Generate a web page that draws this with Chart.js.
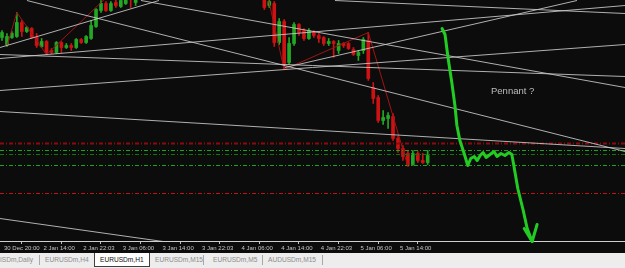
<!DOCTYPE html>
<html>
<head>
<meta charset="utf-8">
<script src="https://cdn.jsdelivr.net/npm/chart.js@4.4.1/dist/chart.umd.min.js"></script>
<style>
html, body { margin: 0; padding: 0; background: #0c0c0c; }
#wrap { position: relative; width: 625px; height: 268px; overflow: hidden; }
#chart { display: block; background: #0c0c0c; }
#note { position: absolute; left: 491px; top: 85px; color: #bdbdbd; font: 9.5px 'Liberation Sans', Arial, sans-serif; white-space: nowrap; }
#tabs { position: absolute; left: 0; top: 253px; width: 625px; height: 15px; background-color: #ededed;
  background-image: radial-gradient(#d4d4d4 0.6px, transparent 0.7px); background-size: 2px 2px; }
.tab { position: absolute; top: 3px; font: 6.6px 'Liberation Sans', Arial, sans-serif; color: #8c8c8c; white-space: nowrap; }
.sep { position: absolute; top: 2px; width: 1px; height: 10px; background: #a8a8a8; }
.active { position: absolute; left: 94px; top: 0; width: 54px; height: 13px; background: #fff; border: 1px solid #404040; border-top: none; }
</style>
</head>
<body>
<div id="wrap">
  <canvas id="chart" width="625" height="253"></canvas>
  <div id="note">Pennant ?</div>
  <div id="tabs">
    <div class="tab" style="left:0px">ISDm,Daily</div>
    <div class="sep" style="left:39px"></div>
    <div class="tab" style="left:45px">EURUSDm,H4</div>
    <div class="active"></div>
    <div class="tab" style="left:100px;color:#111">EURUSDm,H1</div>
    <div class="tab" style="left:155px">EURUSDm,M15</div>
    <div class="sep" style="left:203px"></div>
    <div class="tab" style="left:213px">EURUSDm,M5</div>
    <div class="sep" style="left:262px"></div>
    <div class="tab" style="left:268px">AUDUSDm,M15</div>
    <div class="sep" style="left:322px"></div>
  </div>
</div>
<script>
// EURUSDm H1 -- bars 28..52 are above the visible window
const gap = Array(25).fill(null);

const openP = [1.2963, 1.2956, 1.2963, 1.2964, 1.2978, 1.2969, 1.2972, 1.2963, 1.2954, 1.2959,
  1.2950, 1.2948, 1.2958, 1.2953, 1.2955, 1.2953, 1.2961, 1.2958, 1.2962, 1.2974,
  1.2990, 1.2997, 1.2990, 1.2998, 1.2994, 1.2997, 1.3010, 1.2998, ...gap,
  1.3008, 1.2995, 1.2997, 1.2958, 1.2979, 1.2938, 1.2957, 1.2976, 1.2970, 1.2962,
  1.2968, 1.2965, 1.2963, 1.2957, 1.2959, 1.2950, 1.2957, 1.2957, 1.2951, 1.2945,
  1.2950, 1.2960, 1.2913, 1.2903, 1.2880, 1.2882, 1.2884, 1.2862, 1.2852, 1.2847,
  1.2836, 1.2847, 1.2840, 1.2838];
const highP = [1.2970, 1.2967, 1.2969, 1.2988, 1.2980, 1.2974, 1.2973, 1.2967, 1.2962, 1.2960,
  1.2952, 1.2959, 1.2959, 1.2957, 1.2957, 1.2962, 1.2962, 1.2965, 1.2980, 1.2992,
  1.3000, 1.2999, 1.2999, 1.3001, 1.3002, 1.3007, 1.3012, 1.3010, ...gap,
  1.3012, 1.3004, 1.2999, 1.2982, 1.2981, 1.2963, 1.2978, 1.2977, 1.2972, 1.2972,
  1.2970, 1.2967, 1.2964, 1.2962, 1.2960, 1.2960, 1.2958, 1.2958, 1.2953, 1.2950,
  1.2963, 1.2968, 1.2918, 1.2905, 1.2890, 1.2888, 1.2887, 1.2864, 1.2855, 1.2850,
  1.2850, 1.2849, 1.2847, 1.2850];
const lowP = [1.2960, 1.2954, 1.2962, 1.2963, 1.2964, 1.2968, 1.2962, 1.2953, 1.2953, 1.2946,
  1.2947, 1.2947, 1.2948, 1.2952, 1.2950, 1.2952, 1.2957, 1.2957, 1.2961, 1.2973,
  1.2988, 1.2989, 1.2989, 1.2993, 1.2993, 1.2996, 1.2993, 1.2995, ...gap,
  1.2991, 1.2993, 1.2954, 1.2956, 1.2931, 1.2936, 1.2955, 1.2965, 1.2960, 1.2961,
  1.2963, 1.2958, 1.2955, 1.2955, 1.2943, 1.2947, 1.2953, 1.2951, 1.2945, 1.2940,
  1.2947, 1.2920, 1.2897, 1.2878, 1.2876, 1.2872, 1.2860, 1.2848, 1.2840, 1.2834,
  1.2835, 1.2838, 1.2837, 1.2836];
const closeP = [1.2968, 1.2964, 1.2967, 1.2978, 1.2969, 1.2973, 1.2963, 1.2955, 1.2959, 1.2948,
  1.2948, 1.2958, 1.2953, 1.2955, 1.2953, 1.2961, 1.2958, 1.2964, 1.2975, 1.2991,
  1.2997, 1.2990, 1.2997, 1.2995, 1.3000, 1.3005, 1.3002, 1.3008, ...gap,
  1.2993, 1.2999, 1.2958, 1.2979, 1.2937, 1.2957, 1.2976, 1.2968, 1.2962, 1.2970,
  1.2965, 1.2962, 1.2957, 1.2959, 1.2957, 1.2957, 1.2955, 1.2952, 1.2946, 1.2948,
  1.2961, 1.2922, 1.2902, 1.2880, 1.2883, 1.2885, 1.2862, 1.2852, 1.2844, 1.2835,
  1.2847, 1.2840, 1.2838, 1.2845];

// time labels every 8 bars
const tickBars = [0, 8, 16, 24, 32, 40, 48, 56, 64, 72, 80];
const tickLabels = ['30 Dec 20:00', '2 Jan 14:00', '2 Jan 22:03', '3 Jan 06:00', '3 Jan 14:00',
  '3 Jan 22:03', '4 Jan 06:00', '4 Jan 14:00', '4 Jan 22:03', '5 Jan 06:00', '5 Jan 14:00'];

// trend lines: [bar1, price1, bar2, price2]
const trendLines = [
  [5.05, 1.3000, 125.86, 1.2849],
  [-0.40, 1.2953, 31.72, 1.3000],
  [28.08, 1.3000, 125.86, 1.2913],
  [-0.40, 1.2910, 125.86, 1.2956],
  [-0.40, 1.2946, 125.86, 1.2924],
  [-0.40, 1.2942, 125.86, 1.2995],
  [-0.40, 1.2889, 125.86, 1.2852],
  [-0.40, 1.2782, 32.53, 1.2759],
  [57.17, 1.2933, 116.16, 1.3000],
  [67.27, 1.3000, 125.86, 1.2987]
];

// horizontal dash-dot levels
const levelPrices = [1.2857, 1.2850, 1.2846, 1.2835, 1.2807];
const levelColors = ['#8e0a0a', '#1aa81a', '#0f760f', '#1aa81a', '#c41212'];
const levelWidths = [2, 1, 1, 1, 1];

// zigzag pivots
const zigBars = [1, 3, 9, 48, 57, 74, 82];
const zigPrices = [1.2954, 1.2988, 1.2946, 1.3130, 1.2931, 1.2968, 1.2834];

// hand drawn arrow
const arrowBars = [88.9, 89.5, 90.1, 90.9, 91.5, 91.9, 92.5, 93.3, 94.1, 94.7, 95.4, 96.0, 96.6,
  97.2, 97.8, 98.6, 99.4, 100.0, 100.8, 101.6, 102.4, 103.0, 103.4, 104.2, 105.3, 106.1, 107.1];
const arrowPrices = [1.2972, 1.2966, 1.2943, 1.2917, 1.2895, 1.2875, 1.2860, 1.2848, 1.2835, 1.2842,
  1.2844, 1.2840, 1.2845, 1.2848, 1.2843, 1.2846, 1.2849, 1.2844, 1.2847, 1.2845, 1.2848, 1.2846,
  1.2835, 1.2812, 1.2790, 1.2772, 1.2759];
const headBars = [105.5, 107.1, 108.1];
const headPrices = [1.2772, 1.2759, 1.2776];

const bull = '#22a822', bear = '#cc1212';
const bodies = [], wicks = [], candleColors = [];
openP.forEach((o, i) => {
  if (o === null) return;
  bodies.push({ x: i, y: [o, closeP[i]] });
  wicks.push({ x: i, y: [lowP[i], highP[i]] });
  candleColors.push(closeP[i] >= o ? bull : bear);
});

const lineStyle = { type: 'line', pointRadius: 0, borderWidth: 1, fill: false, tension: 0 };
const datasets = [];

datasets.push({ ...lineStyle, order: 0, clip: false, borderWidth: 3, borderColor: '#22cc22',
  borderJoinStyle: 'round', borderCapStyle: 'round',
  data: arrowBars.map((b, i) => ({ x: b, y: arrowPrices[i] })) });
datasets.push({ ...lineStyle, order: 0, clip: false, borderWidth: 3, borderColor: '#22cc22',
  borderJoinStyle: 'round', borderCapStyle: 'round',
  data: headBars.map((b, i) => ({ x: b, y: headPrices[i] })) });

trendLines.forEach(t => {
  datasets.push({ ...lineStyle, order: 1, borderColor: 'rgba(205,205,205,0.85)',
    data: [{ x: t[0], y: t[1] }, { x: t[2], y: t[3] }] });
});

datasets.push({ ...lineStyle, order: 2, borderColor: '#a01414',
  data: zigBars.map((b, i) => ({ x: b, y: zigPrices[i] })) });

levelPrices.forEach((p, i) => {
  datasets.push({ ...lineStyle, order: 3, borderColor: levelColors[i], borderWidth: levelWidths[i],
    borderDash: [4, 2, 1, 2],
    data: [{ x: -0.404, y: p }, { x: 125.86, y: p }] });
});

datasets.push({ type: 'bar', order: 4, grouped: false, data: bodies, backgroundColor: candleColors,
  barThickness: 3, minBarLength: 1 });
datasets.push({ type: 'bar', order: 5, grouped: false, data: wicks, backgroundColor: candleColors,
  barThickness: 1 });

new Chart(document.getElementById('chart'), {
  type: 'bar',
  data: { datasets: datasets },
  options: {
    responsive: false,
    animation: false,
    devicePixelRatio: 1,
    layout: { padding: 0 },
    plugins: { legend: { display: false }, tooltip: { enabled: false } },
    scales: {
      x: {
        type: 'linear',
        min: -0.404,
        max: 125.86,
        offset: false,
        afterFit: (scale) => { scale.height = 12; },
        afterBuildTicks: (scale) => { scale.ticks = tickBars.map(v => ({ value: v })); },
        grid: { drawOnChartArea: false, drawTicks: true, tickLength: 3, color: '#bfbfbf' },
        border: { display: true, color: '#cfcfcf' },
        ticks: {
          autoSkip: false,
          maxRotation: 0,
          align: 'start',
          labelOffset: 2,
          padding: 1,
          color: '#c4c4c4',
          font: { family: "'Liberation Sans Narrow', 'Liberation Sans', sans-serif", size: 6 },
          callback: (v) => tickLabels[tickBars.indexOf(v)] || ''
        }
      },
      y: { display: false, min: 1.27595, max: 1.30005 }
    }
  }
});
</script>
</body>
</html>
